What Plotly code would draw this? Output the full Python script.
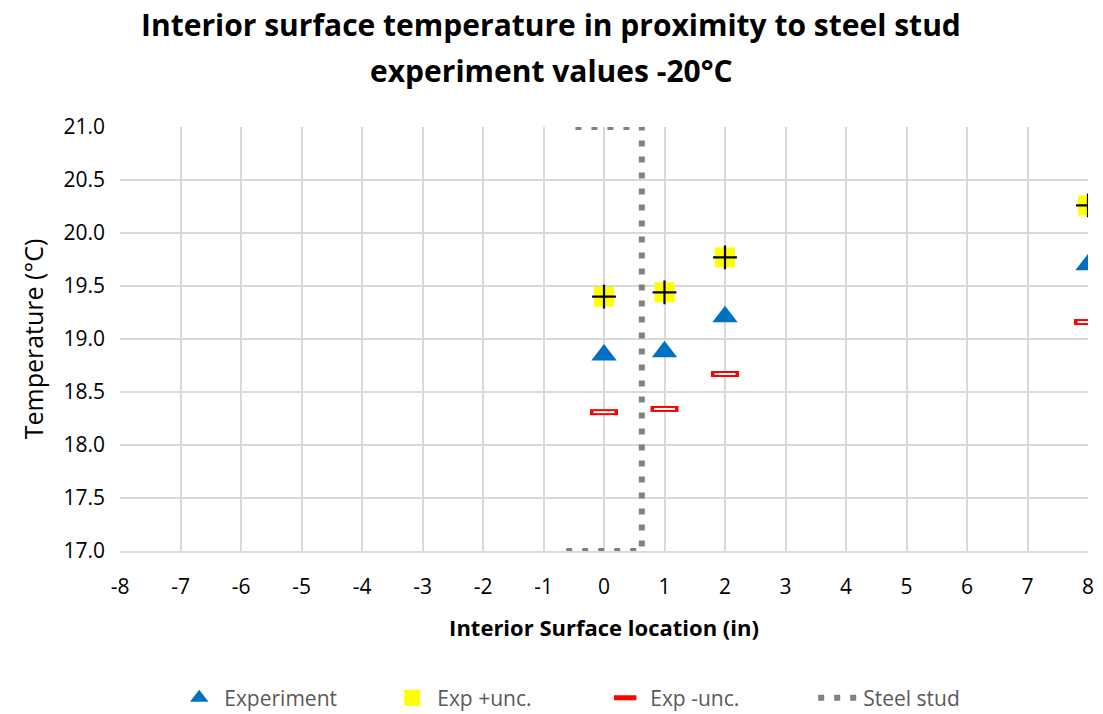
import plotly.graph_objects as go

x_loc = [0, 1, 2, 8]
experiment = [18.85, 18.88, 19.21, 19.70]
exp_plus = [19.40, 19.44, 19.77, 20.26]
exp_minus = [18.31, 18.34, 18.67, 19.16]

stud_x = [-0.625, 0.625, 0.625, -0.625]
stud_y = [17.0, 17.0, 21.0, 21.0]

x_ticks = list(range(-8, 9))
y_ticks = [17.0, 17.5, 18.0, 18.5, 19.0, 19.5, 20.0, 20.5, 21.0]

title_lines = ["Interior surface temperature in proximity to steel stud",
               "experiment values -20°C"]

FONT = "'Open Sans', Lato, sans-serif"

fig = go.Figure()

fig.add_trace(go.Scatter(
    x=x_loc, y=experiment, mode="markers", name="Experiment",
    marker=dict(symbol="triangle-up", size=22, color="#0070C0", line=dict(width=0)),
))
fig.add_trace(go.Scatter(
    x=x_loc, y=exp_plus, mode="markers", name="Exp +unc.",
    marker=dict(symbol="square", size=20, color="#FFFF00", line=dict(width=0)),
))
fig.add_trace(go.Scatter(
    x=x_loc, y=exp_plus, mode="markers", name="Exp +unc.", showlegend=False,
    marker=dict(symbol="cross-thin", size=17, color="black", line=dict(width=2.2, color="black")),
))
fig.add_trace(go.Scatter(
    x=x_loc, y=exp_minus, mode="markers", name="Exp -unc.",
    marker=dict(symbol="line-ew", size=20, color="#FF0000", line=dict(width=6, color="#FF0000")),
))
fig.add_trace(go.Scatter(
    x=x_loc, y=exp_minus, mode="markers", name="Exp -unc.", showlegend=False,
    marker=dict(symbol="line-ew", size=15, color="white", line=dict(width=2, color="white")),
))
fig.add_trace(go.Scatter(
    x=stud_x, y=stud_y, mode="lines", name="Steel stud",
    line=dict(color="#808080", width=6, dash="6px,10px"),
))

fig.update_layout(
    width=1103, height=714,
    margin=dict(l=120, r=15, t=127, b=163, autoexpand=False),
    paper_bgcolor="white", plot_bgcolor="white",
    font=dict(family=FONT, size=21, color="black"),
    xaxis=dict(
        range=[-8, 8], tickmode="array", tickvals=x_ticks,
        ticktext=[str(v) for v in x_ticks],
        showgrid=True, gridcolor="#D9D9D9", gridwidth=1.5,
        zeroline=False, showline=True, linecolor="#D9D9D9", linewidth=1.5,
        ticks="", tickfont=dict(size=21), ticklabelstandoff=16,
        title=dict(text="<b>Interior Surface location (in)</b>", font=dict(size=22), standoff=22),
    ),
    yaxis=dict(
        range=[17, 21], tickmode="array", tickvals=y_ticks,
        ticktext=[f"{v:.1f}" for v in y_ticks],
        showgrid=True, gridcolor="#D9D9D9", gridwidth=1.5,
        zeroline=False, showline=False, ticks="", tickfont=dict(size=21),
        ticklabelstandoff=14,
        title=dict(text="Temperature (°C)", font=dict(size=25), standoff=12),
    ),
    legend=dict(
        orientation="h", x=0.056, xanchor="left", y=-0.3467, yanchor="middle",
        font=dict(size=21, color="#595959"), entrywidth=158, entrywidthmode="pixels",
        itemwidth=40,
    ),
    showlegend=True,
)

for i, (txt, yc) in enumerate(zip(title_lines, [1.2406, 1.1344])):
    fig.add_annotation(
        text=f"<b>{txt}</b>", xref="paper", yref="paper",
        x=(551 - 120) / 968, y=yc, xanchor="center", yanchor="middle",
        showarrow=False, font=dict(size=30, family=FONT, color="black"),
    )

fig.write_html("out.html")
